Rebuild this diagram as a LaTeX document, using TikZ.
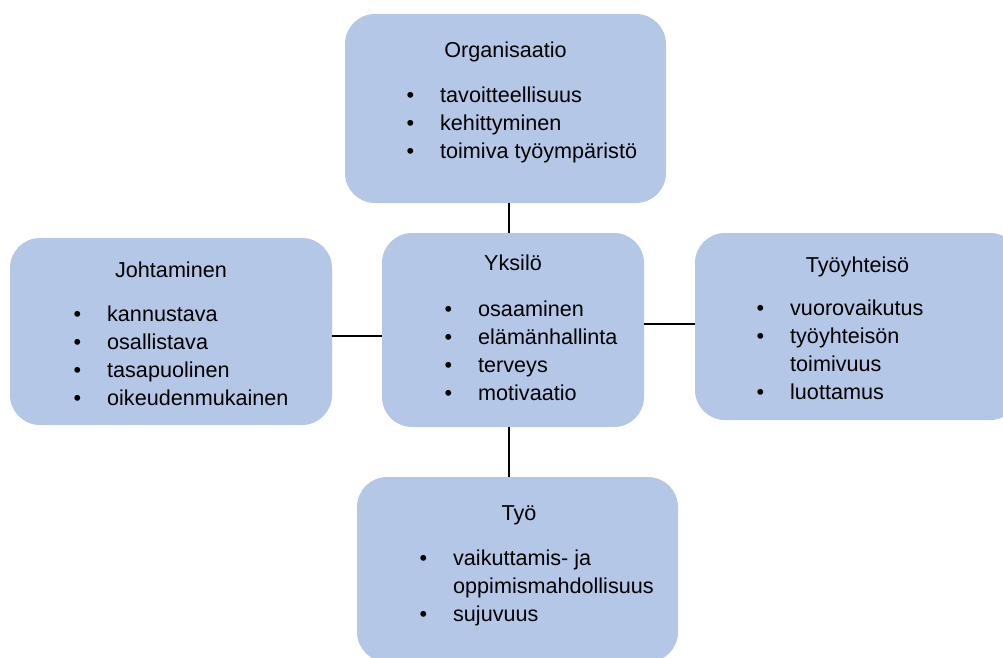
\documentclass[tikz,border=0pt]{standalone}
\usepackage{fontspec}
\setmainfont{Liberation Sans}
\usepackage{tikz}
\usetikzlibrary{positioning,calc}
\definecolor{boxblue}{HTML}{B4C7E7}
\newcommand{\bul}{\llap{\textbullet\hspace{26pt}}}

\begin{document}
\begin{tikzpicture}[x=1pt,y=-1pt,
    area/.style={rectangle,rounded corners=30pt,fill=boxblue,inner sep=0pt,outer sep=0pt},
    head/.style={anchor=base,inner sep=0pt,font=\fontsize{21.6}{28}\selectfont},
    items/.style={anchor=base west,align=left,inner sep=0pt,font=\fontsize{21.6}{28}\selectfont},
    link/.style={line width=2pt}]

      \clip (0,0) rectangle (1003,657);

      \node[area,minimum width=321pt,minimum height=189pt] (org) at (505.5,108.5) {};
      \node[area,minimum width=322pt,minimum height=187pt] (joh) at (171,331.5) {};
      \node[area,minimum width=262pt,minimum height=194pt] (yks) at (513,330) {};
      \node[area,minimum width=325pt,minimum height=187pt] (tyy) at (857.5,326.5) {};
      \node[area,minimum width=321pt,minimum height=185pt] (tyo) at (517.5,569.5) {};

      \node[head] (orgHead) at ([yshift=-43pt]org.north) {Organisaatio};
      \node[head] (johHead) at ([yshift=-39pt]joh.north) {Johtaminen};
      \node[head] (yksHead) at ([yshift=-37pt]yks.north) {Yksilö};
      \node[head] (tyyHead) at ([yshift=-39pt]tyy.north) {Työyhteisö};
      \node[head] (tyoHead) at ([xshift=1.5pt,yshift=-43pt]tyo.north) {Työ};

      % base = last line of the list
      \node[items] (orgList) at ([xshift=95pt,yshift=-144pt]org.north west)
        {\bul tavoitteellisuus\\ \bul kehittyminen\\ \bul toimiva työympäristö};
      \node[items] (johList) at ([xshift=97pt,yshift=-167pt]joh.north west)
        {\bul kannustava\\ \bul osallistava\\ \bul tasapuolinen\\ \bul oikeudenmukainen};
      \node[items] (yksList) at ([xshift=96pt,yshift=-167pt]yks.north west)
        {\bul osaaminen\\ \bul elämänhallinta\\ \bul terveys\\ \bul motivaatio};
      \node[items] (tyyList) at ([xshift=95pt,yshift=-166pt]tyy.north west)
        {\bul vuorovaikutus\\ \bul työyhteisön\\ toimivuus\\ \bul luottamus};
      \node[items] (tyoList) at ([xshift=96pt,yshift=-144pt]tyo.north west)
        {\bul vaikuttamis- ja\\ oppimismahdollisuus\\ \bul sujuvuus};

      \draw[link] ([xshift=3.5pt]org.south) -- ([xshift=-4pt]yks.north);
      \draw[link] ([xshift=-4pt]yks.south) -- ([xshift=-8.5pt]tyo.north);
      \draw[link] ([yshift=-4.5pt]joh.east) -- ([yshift=-6pt]yks.west);
      \draw[link] ([yshift=6pt]yks.east) -- ([yshift=2.5pt]tyy.west);
    \end{tikzpicture}
\end{document}
